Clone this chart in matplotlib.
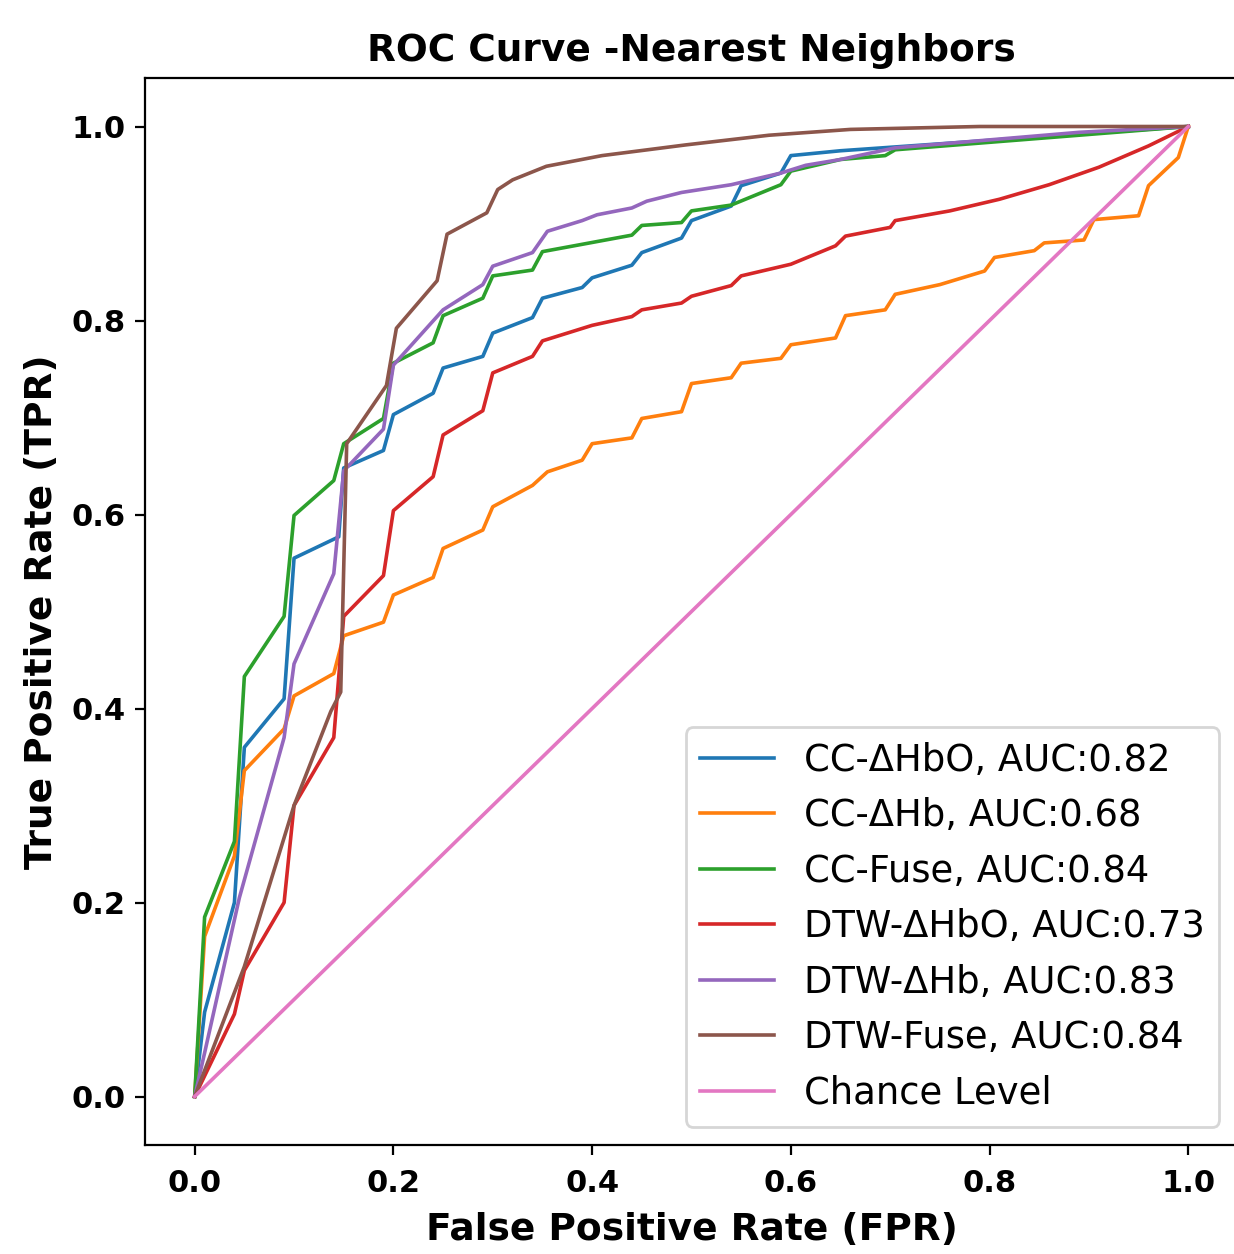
import numpy as np
import matplotlib.pyplot as plt

# ROC points
fpr_cc_hbo = [0, 0.01, 0.04, 0.05, 0.09, 0.10, 0.145, 0.15, 0.19, 0.20, 0.24, 0.25, 0.29, 0.30,
              0.34, 0.35, 0.39, 0.40, 0.44, 0.45, 0.49, 0.50, 0.54, 0.55, 0.59, 0.60, 0.65,
              0.79, 0.90, 1.0]
tpr_cc_hbo = [0, 0.087, 0.20, 0.36, 0.41, 0.555, 0.577, 0.648, 0.666, 0.703, 0.725, 0.751, 0.763,
              0.787, 0.803, 0.823, 0.834, 0.844, 0.857, 0.870, 0.885, 0.903, 0.918, 0.939, 0.952,
              0.970, 0.975, 0.985, 0.993, 1.0]

fpr_cc_hb = [0, 0.01, 0.04, 0.05, 0.09, 0.10, 0.14, 0.15, 0.19, 0.20, 0.24, 0.25, 0.29, 0.30,
             0.34, 0.355, 0.39, 0.40, 0.44, 0.45, 0.49, 0.50, 0.54, 0.55, 0.59, 0.60, 0.645,
             0.655, 0.695, 0.705, 0.75, 0.795, 0.805, 0.845, 0.855, 0.895, 0.905, 0.95, 0.96,
             0.99, 1.0]
tpr_cc_hb = [0, 0.165, 0.248, 0.336, 0.379, 0.413, 0.436, 0.475, 0.489, 0.517, 0.535, 0.565,
             0.584, 0.608, 0.630, 0.644, 0.656, 0.673, 0.679, 0.699, 0.706, 0.735, 0.741, 0.756,
             0.761, 0.775, 0.782, 0.805, 0.811, 0.827, 0.837, 0.851, 0.865, 0.872, 0.880, 0.883,
             0.904, 0.908, 0.939, 0.968, 1.0]

fpr_cc_fuse = [0, 0.01, 0.04, 0.05, 0.09, 0.10, 0.14, 0.15, 0.19, 0.20, 0.24, 0.25, 0.29, 0.30,
               0.34, 0.35, 0.44, 0.45, 0.49, 0.50, 0.54, 0.59, 0.60, 0.65, 0.695, 0.705, 0.89, 1.0]
tpr_cc_fuse = [0, 0.185, 0.263, 0.433, 0.495, 0.599, 0.635, 0.673, 0.699, 0.756, 0.777, 0.805,
               0.823, 0.846, 0.852, 0.871, 0.888, 0.898, 0.901, 0.913, 0.919, 0.940, 0.954, 0.966,
               0.970, 0.976, 0.991, 1.0]

fpr_dtw_hbo = [0, 0.04, 0.05, 0.09, 0.10, 0.14, 0.15, 0.19, 0.20, 0.24, 0.25, 0.29, 0.30, 0.34,
               0.35, 0.40, 0.44, 0.45, 0.49, 0.50, 0.54, 0.55, 0.60, 0.645, 0.655, 0.70, 0.705,
               0.76, 0.81, 0.86, 0.91, 0.96, 1.0]
tpr_dtw_hbo = [0, 0.085, 0.13, 0.20, 0.30, 0.37, 0.495, 0.537, 0.604, 0.639, 0.682, 0.707,
               0.746, 0.763, 0.779, 0.795, 0.804, 0.811, 0.818, 0.825, 0.836, 0.846, 0.858,
               0.877, 0.887, 0.896, 0.903, 0.913, 0.925, 0.940, 0.958, 0.980, 1.0]

fpr_dtw_hb = [0, 0.01, 0.045, 0.09, 0.10, 0.14, 0.15, 0.19, 0.20, 0.25, 0.29, 0.30, 0.34, 0.355,
              0.39, 0.405, 0.44, 0.455, 0.49, 0.54, 0.59, 0.615, 0.65, 0.705, 0.89, 1.0]
tpr_dtw_hb = [0, 0.045, 0.205, 0.37, 0.446, 0.539, 0.645, 0.688, 0.754, 0.811, 0.837, 0.856,
              0.870, 0.892, 0.903, 0.909, 0.916, 0.923, 0.932, 0.940, 0.952, 0.960, 0.966,
              0.978, 0.994, 1.0]

fpr_dtw_fuse = [0, 0.05, 0.10, 0.137, 0.147, 0.153, 0.193, 0.203, 0.244, 0.254, 0.294, 0.305,
                0.32, 0.354, 0.41, 0.494, 0.578, 0.66, 0.79, 1.0]
tpr_dtw_fuse = [0, 0.134, 0.30, 0.397, 0.417, 0.673, 0.733, 0.792, 0.841, 0.889, 0.911, 0.935,
                0.945, 0.959, 0.970, 0.981, 0.991, 0.997, 1.0, 1.0]

names = ['CC-ΔHbO', 'CC-ΔHb', 'CC-Fuse', 'DTW-ΔHbO', 'DTW-ΔHb', 'DTW-Fuse']
aucs = [0.82, 0.68, 0.84, 0.73, 0.83, 0.84]
fprs = [fpr_cc_hbo, fpr_cc_hb, fpr_cc_fuse, fpr_dtw_hbo, fpr_dtw_hb, fpr_dtw_fuse]
tprs = [tpr_cc_hbo, tpr_cc_hb, tpr_cc_fuse, tpr_dtw_hbo, tpr_dtw_hb, tpr_dtw_fuse]

fig = plt.figure(figsize=(6.17, 6.27), dpi=200)
ax = fig.add_axes([0.1175, 0.0869, 0.8857, 0.8509])
# the reference is cropped just before the right spine
ax.spines['right'].set_visible(False)

for fpr, tpr, name, auc in zip(fprs, tprs, names, aucs):
    ax.plot(fpr, tpr, lw=1.3, label=f'{name}, AUC:{auc:.2f}')
ax.plot([0, 1], [0, 1], lw=1.3, label='Chance Level')

ax.set_title('ROC Curve -Nearest Neighbors', fontsize=13.5, fontweight='bold')
ax.set_xlabel('False Positive Rate (FPR)', fontsize=13.5, fontweight='bold', labelpad=5)
ax.set_ylabel('True Positive Rate (TPR)', fontsize=13.5, fontweight='bold')
ax.set_xticks(np.arange(0, 1.01, 0.2))
ax.set_yticks(np.arange(0, 1.01, 0.2))
ax.tick_params(axis='x', pad=5)
for lbl in ax.get_xticklabels() + ax.get_yticklabels():
    lbl.set_fontsize(11)
    lbl.set_fontweight('bold')
ax.legend(loc='lower right', fontsize=13.3)

fig.savefig('out.png', dpi=200)
